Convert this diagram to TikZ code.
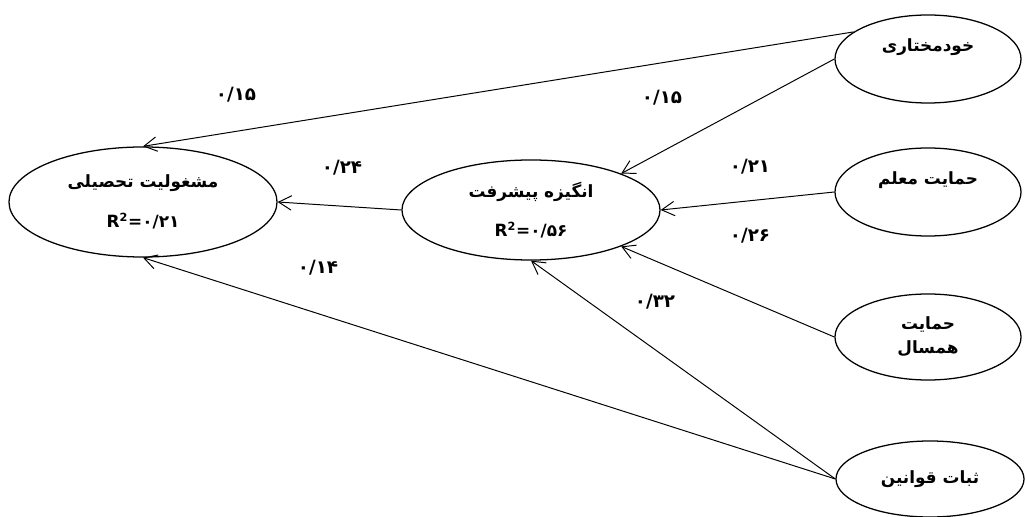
\documentclass[tikz,border=0pt]{standalone}
\usepackage{fontspec}
\usepackage{tikz}
\usetikzlibrary{shapes.geometric,arrows.meta}
\newfontfamily\farsifont[Script=Arabic]{DejaVu Sans}
\newfontfamily\latinfont{DejaVu Sans}
\TeXXeTstate=1

\begin{document}
\begin{tikzpicture}[x=0.025cm, y=-0.025cm,
  >={Straight Barb[length=3.2mm,width=3.6mm]},
  var/.style={draw, ellipse, line width=0.9pt, inner sep=0pt, align=center,
    font=\farsifont\bfseries\fontsize{12}{15}\selectfont},
  link/.style={->, line width=0.7pt},
  coef/.style={font=\farsifont\bfseries\fontsize{13}{15}\selectfont}]
\useasboundingbox (0,0) rectangle (1025,517);
% latent variables
\node [var, minimum width=6.7cm, minimum height=2.75cm] (mash) at (143,202)
  {\beginR مشغولیت تحصیلی\endR\\[13pt] {\latinfont R\textsuperscript{2}=}۰/۲۱};
\node [var, minimum width=6.45cm, minimum height=2.5cm] (angiz) at (531,210)
  {\beginR انگیزه پیشرفت\endR\\[13pt] {\latinfont R\textsuperscript{2}=}۰/۵۶};
\node [var, minimum width=4.65cm, minimum height=2.2cm] (khod) at (928,59)
  {\beginR خودمختاری\endR\\ \strut};
\node [var, minimum width=4.65cm, minimum height=2.2cm] (moallem) at (928,192)
  {\beginR حمایت معلم\endR\\ \strut};
\node [var, minimum width=4.65cm, minimum height=2.15cm] (hamsal) at (928,337)
  {\beginR حمایت\endR\\[2pt] \beginR همسال\endR};
\node [var, minimum width=4.7cm, minimum height=1.9cm] (sobat) at (930,479)
  {\beginR ثبات قوانین\endR};
% paths
\draw [link] (khod.160) -- (mash.north);
\draw [link] (khod.west) -- (angiz.22);
\draw [link] (moallem.west) -- (angiz.east);
\draw [link] (hamsal.west) -- (angiz.-22);
\draw [link] (sobat.west) -- (angiz.south);
\draw [link] (sobat.west) -- (mash.south);
\draw [link] (angiz.west) -- (mash.east);
% coefficients
\node [coef] (c1) at (236,95) {۰/۱۵};
\node [coef] (c2) at (662,98) {۰/۱۵};
\node [coef] (c3) at (342,168) {۰/۲۴};
\node [coef] (c4) at (750,167) {۰/۲۱};
\node [coef] (c5) at (750,236) {۰/۲۶};
\node [coef] (c6) at (318,268) {۰/۱۴};
\node [coef] (c7) at (655,302) {۰/۳۲};
\end{tikzpicture}
\end{document}
